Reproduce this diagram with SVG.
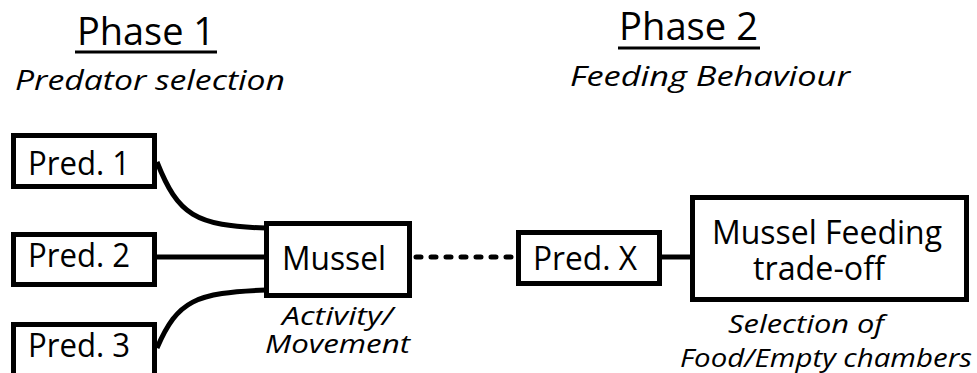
<svg xmlns="http://www.w3.org/2000/svg" width="977" height="373" viewBox="0 0 977 373">
<style>
.box{fill:#fff;stroke:#000;stroke-width:5}
.conn{fill:none;stroke:#000;stroke-width:5}
.t{font-family:"Open Sans","Liberation Sans",sans-serif;fill:#000}
.i{font-family:"Open Sans","Liberation Sans",sans-serif;font-style:italic;fill:#000}
</style>
<rect width="977" height="373" fill="#fff"/>
<g id="headers">
<text class="t" x="77" y="45" font-size="38" textLength="138" lengthAdjust="spacingAndGlyphs">Phase 1</text>
<line x1="75" y1="52" x2="217" y2="52" stroke="#000" stroke-width="3"/>
<text class="i" x="15" y="90" font-size="27" textLength="270" lengthAdjust="spacingAndGlyphs">Predator selection</text>
<text class="t" x="619" y="40" font-size="38" textLength="139" lengthAdjust="spacingAndGlyphs">Phase 2</text>
<line x1="618" y1="48" x2="760" y2="48" stroke="#000" stroke-width="3"/>
<text class="i" x="570" y="86" font-size="27" textLength="280" lengthAdjust="spacingAndGlyphs">Feeding Behaviour</text>
</g>
<g id="connectors">
<path class="conn" d="M157 162 C178 215 195 226 266 228"/>
<line class="conn" x1="157" y1="257" x2="266" y2="257"/>
<path class="conn" d="M266 290 C195 293 178 300 157 348"/>
<line class="conn" x1="416" y1="257" x2="512" y2="257" stroke-dasharray="5 10" stroke-linecap="round"/>
<line class="conn" x1="662" y1="257" x2="690" y2="257"/>
</g>
<g id="pred1">
<rect class="box" x="13.5" y="135.5" width="141" height="51"/>
<text class="t" x="28" y="175" font-size="33" textLength="102" lengthAdjust="spacingAndGlyphs">Pred. 1</text>
</g>
<g id="pred2">
<rect class="box" x="13.5" y="234.5" width="141" height="50"/>
<text class="t" x="28" y="267" font-size="33" textLength="102" lengthAdjust="spacingAndGlyphs">Pred. 2</text>
</g>
<g id="pred3">
<rect class="box" x="13.5" y="324.5" width="141" height="55"/>
<text class="t" x="28" y="357" font-size="33" textLength="102" lengthAdjust="spacingAndGlyphs">Pred. 3</text>
</g>
<g id="mussel">
<rect class="box" x="266.5" y="223.5" width="143" height="72"/>
<text class="t" x="282" y="270" font-size="32" textLength="104" lengthAdjust="spacingAndGlyphs">Mussel</text>
<text class="i" x="282" y="325" font-size="25" textLength="111" lengthAdjust="spacingAndGlyphs">Activity/</text>
<text class="i" x="265" y="353" font-size="25" textLength="145" lengthAdjust="spacingAndGlyphs">Movement</text>
</g>
<g id="predx">
<rect class="box" x="518.5" y="232.5" width="141" height="51"/>
<text class="t" x="533" y="270" font-size="33" textLength="104" lengthAdjust="spacingAndGlyphs">Pred. X</text>
</g>
<g id="feeding">
<rect class="box" x="692.5" y="197.5" width="274" height="102"/>
<text class="t" x="712" y="244" font-size="33" textLength="230" lengthAdjust="spacingAndGlyphs">Mussel Feeding</text>
<text class="t" x="753" y="280" font-size="33" textLength="132" lengthAdjust="spacingAndGlyphs">trade-off</text>
<text class="i" x="728" y="333" font-size="25" textLength="156" lengthAdjust="spacingAndGlyphs">Selection of</text>
<text class="i" x="680" y="367" font-size="25" textLength="292" lengthAdjust="spacingAndGlyphs">Food/Empty chambers</text>
</g>
</svg>
